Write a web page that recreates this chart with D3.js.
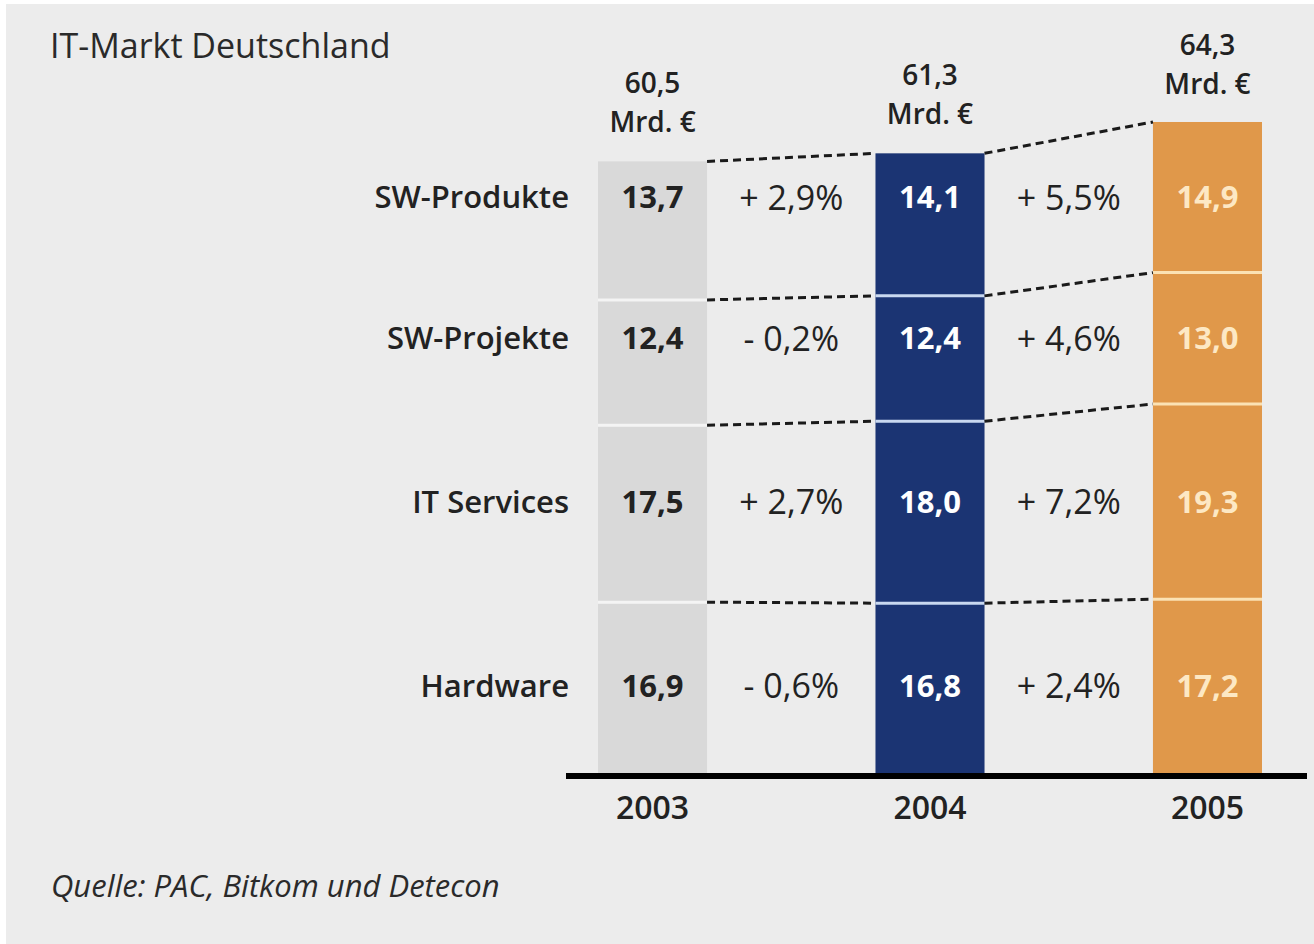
<!DOCTYPE html>
<html>
<head>
<meta charset="utf-8">
<script src="https://cdn.jsdelivr.net/npm/d3@7"></script>
<style>
  html, body { margin: 0; padding: 0; background: #ffffff; }
  svg { display: block; }
  text { font-family: "Open Sans", "DejaVu Sans", sans-serif; }
</style>
</head>
<body>
<svg id="chart" width="1314" height="944"></svg>
<script>
// ---- data ----
const years = ["2003", "2004", "2005"];
const categories = ["Hardware", "IT Services", "SW-Projekte", "SW-Produkte"]; // bottom to top
const values2003 = [16.9, 17.5, 12.4, 13.7];
const values2004 = [16.8, 18.0, 12.4, 14.1];
const values2005 = [17.2, 19.3, 13.0, 14.9];
const totals = [60.5, 61.3, 64.3];
const totalLabels = ["60,5", "61,3", "64,3"];
const growth0304 = ["- 0,6%", "+ 2,7%", "- 0,2%", "+ 2,9%"];
const growth0405 = ["+ 2,4%", "+ 7,2%", "+ 4,6%", "+ 5,5%"];
const title = "IT-Markt Deutschland";
const source = "Quelle: PAC, Bitkom und Detecon";
const unit = "Mrd. €";

const seriesByYear = [values2003, values2004, values2005];
const fmt = v => v.toFixed(1).replace(".", ",");

// ---- styles ----
const barColors = ["#d9d9d9", "#1b3473", "#e0984a"];
const sepColors = ["#f4f4f4", "#c9d8f0", "#fbe2b4"];
const valueColors = ["#222222", "#ffffff", "#fde8c4"];

const svg = d3.select("#chart");
svg.append("rect").attr("x", 6).attr("y", 4).attr("width", 1308).attr("height", 940).attr("fill", "#ececec");

const x = d3.scaleBand().domain(years).range([598, 1262]).paddingInner(0.607).paddingOuter(0);
const y = d3.scaleLinear().domain([0, 64.3]).range([773, 123]);
const bw = x.bandwidth();

// stacked data
const stacks = seriesByYear.map(vals => {
  let acc = 0;
  return vals.map((v, i) => { const y0 = acc; acc += v; return { cat: categories[i], v, y0, y1: acc }; });
});

// bars
years.forEach((yr, yi) => {
  const g = svg.append("g");
  g.selectAll("rect.seg").data(stacks[yi]).join("rect")
    .attr("class", "seg")
    .attr("x", x(yr))
    .attr("width", bw)
    .attr("y", d => y(d.y1))
    .attr("height", d => y(d.y0) - y(d.y1))
    .attr("fill", barColors[yi]);
  g.selectAll("line.sep").data(stacks[yi].slice(1)).join("line")
    .attr("class", "sep")
    .attr("x1", x(yr)).attr("x2", x(yr) + bw)
    .attr("y1", d => y(d.y0)).attr("y2", d => y(d.y0))
    .attr("stroke", sepColors[yi]).attr("stroke-width", 3);
});

// dashed connectors
for (let yi = 0; yi < years.length - 1; yi++) {
  const a = stacks[yi], b = stacks[yi + 1];
  const xa = x(years[yi]) + bw, xb = x(years[yi + 1]);
  svg.append("g").selectAll("line").data(d3.range(categories.length)).join("line")
    .attr("x1", xa).attr("x2", xb)
    .attr("y1", i => y(a[i].y1)).attr("y2", i => y(b[i].y1))
    .attr("stroke", "#1a1a1a").attr("stroke-width", 3)
    .attr("stroke-dasharray", "8,5");
}

// row positions (centre of the tallest bar's segments)
const rowY = stacks[2].map(d => y((d.y0 + d.y1) / 2));

// value labels
years.forEach((yr, yi) => {
  svg.append("g").selectAll("text").data(stacks[yi]).join("text")
    .attr("x", x(yr) + bw / 2)
    .attr("y", (d, i) => rowY[i])
    .attr("dy", "0.36em")
    .attr("text-anchor", "middle")
    .attr("font-size", 31).attr("font-weight", 700)
    .attr("fill", valueColors[yi])
    .text(d => fmt(d.v));
});

// growth labels
[growth0304, growth0405].forEach((arr, gi) => {
  const cx = (x(years[gi]) + bw + x(years[gi + 1])) / 2;
  svg.append("g").selectAll("text").data(arr).join("text")
    .attr("x", cx)
    .attr("y", (d, i) => rowY[i])
    .attr("dy", "0.36em")
    .attr("text-anchor", "middle")
    .attr("font-size", 34)
    .attr("fill", "#222222")
    .text(d => d);
});

// category labels
svg.append("g").selectAll("text").data(categories).join("text")
  .attr("x", 569)
  .attr("y", (d, i) => rowY[i])
  .attr("dy", "0.36em")
  .attr("text-anchor", "end")
  .attr("font-size", 31).attr("font-weight", 600)
  .attr("fill", "#222222")
  .text(d => d);

// totals (two separate lines)
years.forEach((yr, yi) => {
  const cx = x(yr) + bw / 2;
  svg.append("text")
    .attr("x", cx).attr("y", y(totals[yi]) - 68)
    .attr("text-anchor", "middle")
    .attr("font-size", 28).attr("font-weight", 600)
    .attr("fill", "#222222")
    .text(totalLabels[yi]);
  svg.append("text")
    .attr("x", cx).attr("y", y(totals[yi]) - 29)
    .attr("text-anchor", "middle")
    .attr("font-size", 28).attr("font-weight", 600)
    .attr("fill", "#222222")
    .text(unit);
});

// baseline + axis
svg.append("line").attr("x1", 566).attr("x2", 1307).attr("y1", y(0) + 3).attr("y2", y(0) + 3)
  .attr("stroke", "#000").attr("stroke-width", 6);
const xAxis = d3.axisBottom(x).tickSize(0).tickPadding(0);
const ax = svg.append("g").attr("transform", `translate(0, ${y(0) + 6})`).call(xAxis);
ax.select(".domain").remove();
ax.selectAll("text")
  .attr("dy", "1.25em")
  .attr("font-size", 32).attr("font-weight", 600)
  .attr("fill", "#222222")
  .style("font-family", "'Open Sans', sans-serif");

// title + source
svg.append("text").attr("x", 50).attr("y", 58)
  .attr("font-size", 34).attr("fill", "#2a2a2a").text(title);
svg.append("text").attr("x", 51).attr("y", 897)
  .attr("font-size", 31).attr("font-style", "italic").attr("fill", "#2a2a2a").text(source);
</script>
</body>
</html>
